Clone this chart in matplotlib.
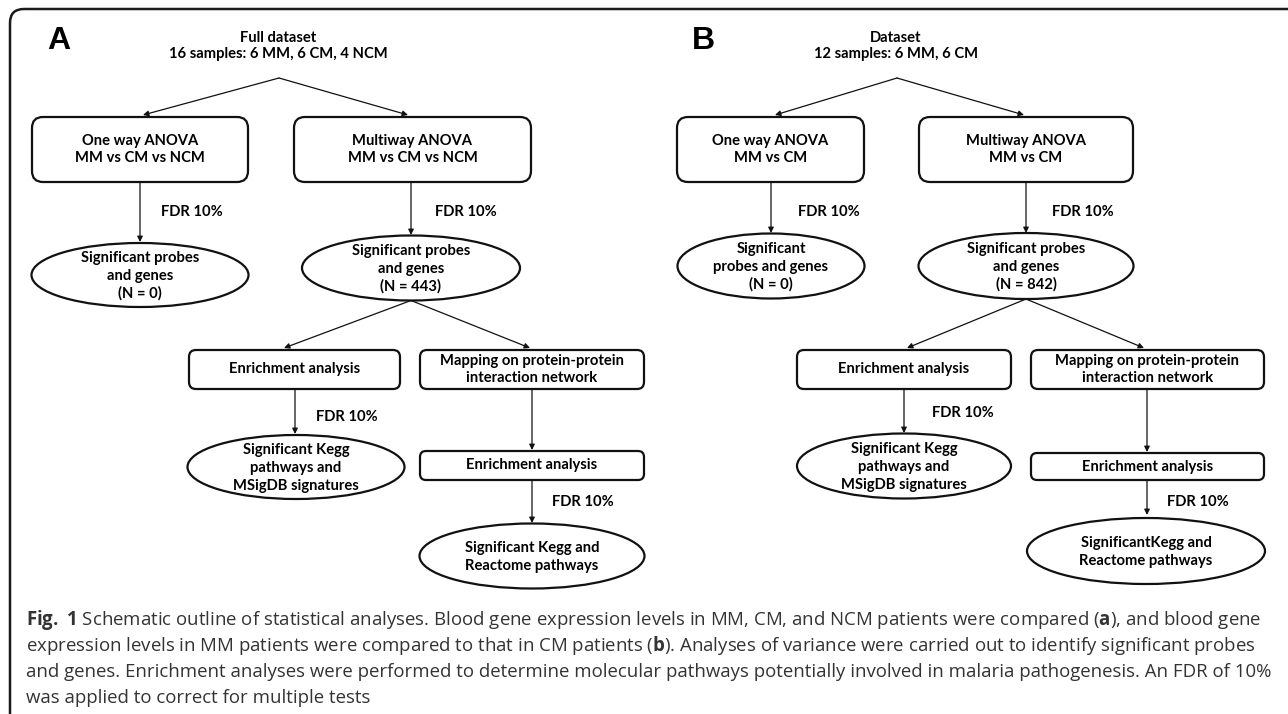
import matplotlib.pyplot as plt
from matplotlib.patches import FancyBboxPatch, Ellipse

plt.rcParams['mathtext.fontset'] = 'custom'
plt.rcParams['mathtext.rm'] = 'Open Sans'
plt.rcParams['mathtext.bf'] = 'Open Sans:bold'

# ---- content ----
panel_letters = ['A', 'B']
dataset_names = ['Full dataset', 'Dataset']
sample_info = ['16 samples: 6 MM, 6 CM, 4 NCM', '12 samples: 6 MM, 6 CM']
comparisons = ['MM vs CM vs NCM', 'MM vs CM']
n_oneway = [0, 0]
n_multiway = [443, 842]
fdr = '10%'
sig_oneway_text = ['Significant probes\nand genes', 'Significant\nprobes and genes']
kegg_ppi_text = ['Significant Kegg and\nReactome pathways', 'SignificantKegg and\nReactome pathways']

caption_lines = [
    r'$\mathbf{Fig.\;1}$ Schematic outline of statistical analyses. Blood gene expression levels in MM, CM, and NCM patients were compared ($\mathbf{a}$), and blood gene',
    r'expression levels in MM patients were compared to that in CM patients ($\mathbf{b}$). Analyses of variance were carried out to identify significant probes',
    'and genes. Enrichment analyses were performed to determine molecular pathways potentially involved in malaria pathogenesis. An FDR of 10%',
    'was applied to correct for multiple tests',
]

# ---- layout (pixel coordinates, y downwards) ----
layouts = [
    dict(letter=(47, 41), title=278, apex=(279, 78), split=[(143, 115), (408, 115)],
         box1=(32, 248), box2=(294, 531), cx1=140, cx2=411,
         ell1=(140, 275, 217, 64), ell2=(411, 268, 218, 65), a1_end=242, a2_end=235,
         fdr1=(161, 212), fdr2=(435, 212),
         split2=[(284, 348), (530, 348)], box3=(189, 400), box4=(420, 644),
         cx3=295, cx4=532, ell3=(296, 467, 217, 64), a3_end=434, fdr3=(316, 417),
         a4_end=450, box5=(451, 480), a5=(481, 523), fdr5=(552, 502),
         ell5=(532, 556, 225, 65)),
    dict(letter=(692, 41), title=896, apex=(897, 78), split=[(775, 115), (1024, 115)],
         box1=(677, 864), box2=(919, 1133), cx1=771, cx2=1026,
         ell1=(771, 266, 187, 65), ell2=(1026, 266, 215, 66), a1_end=233, a2_end=233,
         fdr1=(798, 212), fdr2=(1052, 212),
         split2=[(907, 348), (1144, 348)], box3=(797, 1011), box4=(1031, 1264),
         cx3=904, cx4=1147, ell3=(904, 466, 214, 65), a3_end=433, fdr3=(932, 413),
         a4_end=452, box5=(453, 480), a5=(481, 515), fdr5=(1167, 502),
         ell5=(1146, 551, 238, 66)),
]

fig = plt.figure(figsize=(12.88, 7.14), dpi=100)
ax = fig.add_axes([0, 0, 1, 1])
ax.set_xlim(0, 1288)
ax.set_ylim(714, 0)
ax.axis('off')

FONT = ['Lato', 'DejaVu Sans']
TS = 10.6
LS = 1.32
LW = 1.6
EC = '#111111'


def box(x0, x1, y0, y1, text, r=9):
    p = FancyBboxPatch((x0, y0), x1 - x0, y1 - y0,
                       boxstyle=f'round,pad=0,rounding_size={r}',
                       fc='white', ec=EC, lw=LW)
    ax.add_patch(p)
    ax.text((x0 + x1) / 2, (y0 + y1) / 2, text, ha='center', va='center',
            fontsize=TS, fontweight='bold', family=FONT, linespacing=LS)


def ellipse(cx, cy, w, h, text):
    ax.add_patch(Ellipse((cx, cy), w, h, fc='white', ec=EC, lw=LW))
    ax.text(cx, cy + 1, text, ha='center', va='center', fontsize=TS,
            fontweight='bold', family=FONT, linespacing=LS)


def arrow(p0, p1):
    ax.annotate('', xy=p1, xytext=p0,
                arrowprops=dict(arrowstyle='-|>', color=EC, lw=0.9,
                                mutation_scale=8, shrinkA=0, shrinkB=0))


def fdr_label(pos):
    ax.text(pos[0], pos[1], f'FDR {fdr}', ha='left', va='center',
            fontsize=TS, fontweight='bold', family=FONT)


# outer frame (runs off the right and bottom edges)
ax.add_patch(FancyBboxPatch((10, 9), 1400, 800,
                            boxstyle='round,pad=0,rounding_size=14',
                            fc='none', ec='#1a1a1a', lw=1.8))

for i, L in enumerate(layouts):
    ax.text(L['letter'][0], L['letter'][1], panel_letters[i], ha='left', va='center',
            fontsize=23, fontweight='bold', family=['Liberation Sans', 'DejaVu Sans'])
    ax.text(L['title'], 46, f'{dataset_names[i]}\n{sample_info[i]}', ha='center',
            va='center', fontsize=TS, fontweight='bold', family=FONT, linespacing=1.26)

    for tgt in L['split']:
        arrow(L['apex'], tgt)

    box(*L['box1'], 117, 182, f'One way ANOVA\n{comparisons[i]}', r=11)
    box(*L['box2'], 117, 182, f'Multiway ANOVA\n{comparisons[i]}', r=11)

    arrow((L['cx1'], 182), (L['cx1'], L['a1_end']))
    arrow((L['cx2'], 182), (L['cx2'], L['a2_end']))
    fdr_label(L['fdr1'])
    fdr_label(L['fdr2'])

    ellipse(*L['ell1'], f'{sig_oneway_text[i]}\n(N = {n_oneway[i]})')
    ellipse(*L['ell2'], f'Significant probes\nand genes\n(N = {n_multiway[i]})')

    e2 = L['ell2']
    for tgt in L['split2']:
        arrow((e2[0], e2[1] + e2[3] / 2), tgt)

    box(*L['box3'], 350, 389, 'Enrichment analysis', r=7)
    box(*L['box4'], 350, 389, 'Mapping on protein-protein\ninteraction network', r=7)

    arrow((L['cx3'], 389), (L['cx3'], L['a3_end']))
    fdr_label(L['fdr3'])
    ellipse(*L['ell3'], 'Significant Kegg\npathways and\nMSigDB signatures')

    arrow((L['cx4'], 389), (L['cx4'], L['a4_end']))
    box(*L['box4'], *L['box5'], 'Enrichment analysis', r=6)
    arrow((L['cx4'], L['a5'][0]), (L['cx4'], L['a5'][1]))
    fdr_label(L['fdr5'])
    ellipse(*L['ell5'], kegg_ppi_text[i])

# caption
for k, line in enumerate(caption_lines):
    ax.text(26, 625 + k * 26, line, ha='left', va='baseline', fontsize=13.4,
            family='Open Sans', color='#333333')

fig.savefig('out.png', dpi=100)
